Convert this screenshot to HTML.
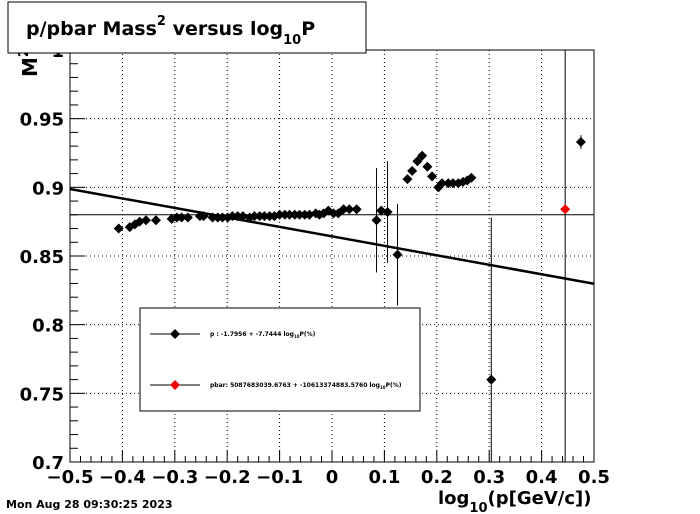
<!DOCTYPE html>
<html><head><meta charset="utf-8"><style>
html,body{margin:0;padding:0;background:#fff;}
svg{display:block;font-family:"DejaVu Sans","Liberation Sans",sans-serif;}
</style></head><body>
<svg id="chart" width="700" height="514" viewBox="0 0 700 514" xmlns="http://www.w3.org/2000/svg">
<rect x="0" y="0" width="700" height="514" fill="#fff"/>
<g id="grid"></g>
<g id="axes"></g>
<g id="marks"></g>
<text transform="translate(37,77) rotate(-90)" font-size="20" font-weight="bold">M<tspan dy="-9" font-size="13">2</tspan></text>
<g>
<rect x="8" y="2" width="358" height="51" fill="#fff" stroke="#000" stroke-width="1"/>
<text x="26" y="35" font-size="19" font-weight="bold">p/pbar Mass<tspan dy="-10" font-size="13">2</tspan><tspan dy="10"> versus log</tspan><tspan dy="9" font-size="13">10</tspan><tspan dy="-9">P</tspan></text>
</g>
<g>
<rect x="140" y="308" width="280" height="103" fill="#fff" stroke="#000" stroke-width="1"/>
<g>
<line x1="150" y1="334" x2="200" y2="334" stroke="#000" stroke-width="1"/>
<path d="M175 329 L180 334 L175 339 L170 334 Z" fill="#000"/>
<text x="210" y="336" font-size="6" font-weight="bold">p   : -1.7956 + -7.7444 log<tspan dy="2" font-size="4">10</tspan><tspan dy="-2">P(%)</tspan></text>
</g>
<g>
<line x1="150" y1="385" x2="200" y2="385" stroke="#000" stroke-width="1"/>
<path d="M175 380 L180 385 L175 390 L170 385 Z" fill="#e00"/>
<text x="210" y="387" font-size="6" font-weight="bold">pbar: 5087683039.6763 + -10613374883.5760 log<tspan dy="2" font-size="4">10</tspan><tspan dy="-2">P(%)</tspan></text>
</g>
</g>
<text x="438" y="504" font-size="18" font-weight="bold">log<tspan dy="8" font-size="13">10</tspan><tspan dy="-8">(p[GeV/c])</tspan></text>
<text x="6" y="508" font-size="11" font-weight="bold">Mon Aug 28 09:30:25 2023</text>
</svg>
<script>
const xTicks=[-0.5,-0.4,-0.3,-0.2,-0.1,0,0.1,0.2,0.3,0.4,0.5];
const xTickLabels=["\u22120.5","\u22120.4","\u22120.3","\u22120.2","\u22120.1","0","0.1","0.2","0.3","0.4","0.5"];
const yTicks=[0.7,0.75,0.8,0.85,0.9,0.95,1.0];
const yTickLabels=["0.7","0.75","0.8","0.85","0.9","0.95","1"];
const pX=[-0.407,-0.386,-0.376,-0.367,-0.355,-0.336,-0.306,-0.296,-0.287,-0.275,-0.252,-0.245,-0.228,-0.218,-0.209,-0.199,-0.190,-0.180,-0.170,-0.157,-0.148,-0.138,-0.129,-0.119,-0.110,-0.100,-0.090,-0.081,-0.071,-0.062,-0.052,-0.043,-0.031,-0.024,-0.016,-0.007,0.003,0.012,0.022,0.033,0.047,0.085,0.094,0.106,0.125,0.144,0.153,0.163,0.172,0.182,0.191,0.203,0.210,0.222,0.231,0.241,0.250,0.258,0.266,0.304,0.475];
const pY=[0.870,0.871,0.873,0.875,0.876,0.876,0.877,0.878,0.878,0.878,0.879,0.879,0.878,0.878,0.878,0.878,0.879,0.879,0.879,0.878,0.879,0.879,0.879,0.879,0.879,0.880,0.880,0.880,0.880,0.880,0.880,0.880,0.881,0.880,0.881,0.883,0.881,0.881,0.884,0.884,0.884,0.876,0.883,0.882,0.851,0.906,0.912,0.919,0.923,0.915,0.908,0.900,0.903,0.903,0.903,0.903,0.904,0.905,0.907,0.760,0.933];
const pErr=[0.001,0.001,0.001,0.001,0.001,0.001,0.001,0.001,0.001,0.001,0.001,0.001,0.001,0.001,0.001,0.001,0.001,0.001,0.001,0.001,0.001,0.001,0.001,0.001,0.001,0.001,0.001,0.001,0.001,0.001,0.001,0.001,0.001,0.001,0.001,0.001,0.001,0.001,0.001,0.001,0.001,0.038,0.001,0.037,0.037,0.002,0.002,0.002,0.002,0.002,0.002,0.002,0.002,0.002,0.002,0.002,0.002,0.002,0.002,0.118,0.005];
const pbarX=[0.445];
const pbarY=[0.884];
const pbarErr=[0.5];
const fitP=[0.8643,-0.069];
const refLine=[0.88];

const X0=70,X1=594,Y0=462,Y1=50;
const xs=v=>X0+(v+0.5)/1.0*(X1-X0);
const ys=v=>Y0-(v-0.7)/0.3*(Y0-Y1);
const NS="http://www.w3.org/2000/svg";
function mk(tag,attrs,parent){const e=document.createElementNS(NS,tag);for(const k in attrs)e.setAttribute(k,attrs[k]);parent.appendChild(e);return e;}
const grid=document.getElementById('grid'),axes=document.getElementById('axes'),marks=document.getElementById('marks');
xTicks.forEach((t,i)=>{
 if(i>0&&i<xTicks.length-1){const g=mk('line',{x1:xs(t),x2:xs(t),y1:Y1,y2:Y0,stroke:'#000','stroke-width':1,'stroke-dasharray':'1,3'},grid);
 
 }
 const tk=mk('line',{x1:xs(t),x2:xs(t),y1:Y0,y2:Y0-12,stroke:'#000','stroke-width':1},axes);
 
 
 const lb=mk('text',{x:xs(t),y:Y0+21,'font-size':18,'font-weight':'bold','text-anchor':'middle'},axes);
 lb.textContent=xTickLabels[i];
 
 
 if(i<xTicks.length-1){for(let k=1;k<5;k++){const m=mk('line',{x1:xs(t+k*0.02),x2:xs(t+k*0.02),y1:Y0,y2:Y0-6,stroke:'#000','stroke-width':1},axes);
 
 }}
});
yTicks.forEach((t,i)=>{
 if(i>0&&i<yTicks.length-1){const g=mk('line',{x1:X0,x2:X1,y1:ys(t),y2:ys(t),stroke:'#000','stroke-width':1,'stroke-dasharray':'1,3'},grid);
 
 }
 const tk=mk('line',{x1:X0,x2:X0+15,y1:ys(t),y2:ys(t),stroke:'#000','stroke-width':1},axes);
 
 
 const lb=mk('text',{x:X0-6,y:ys(t)+7,'font-size':18,'font-weight':'bold','text-anchor':'end'},axes);
 lb.textContent=yTickLabels[i];
 
 
 if(i<yTicks.length-1){for(let k=1;k<5;k++){const m=mk('line',{x1:X0,x2:X0+8,y1:ys(t+k*0.01),y2:ys(t+k*0.01),stroke:'#000','stroke-width':1},axes);
 
 }}
});
const frame=mk('rect',{x:X0,y:Y1,width:X1-X0,height:Y0-Y1,fill:'none',stroke:'#000','stroke-width':1},axes);


const rl=mk('line',{x1:X0,x2:X1,y1:ys(refLine[0]),y2:ys(refLine[0]),stroke:'#000','stroke-width':1},marks);


const fl=mk('line',{x1:X0,x2:X1,y1:ys(fitP[0]+fitP[1]*-0.5),y2:ys(fitP[0]+fitP[1]*0.5),stroke:'#000','stroke-width':2.5},marks);


function clampY(v){return Math.max(Y1,Math.min(Y0,ys(v)));}
function drawSeries(X,Y,E,color,name){
 X.forEach((x,i)=>{
  if(E[i]>0.003){const eb=mk('line',{x1:xs(x),x2:xs(x),y1:clampY(Y[i]+E[i]),y2:clampY(Y[i]-E[i]),stroke:'#000','stroke-width':1},marks);
  
  }
  const cx=xs(x),cy=ys(Y[i]);
  const p=mk('path',{d:`M${cx} ${cy-5}L${cx+5} ${cy}L${cx} ${cy+5}L${cx-5} ${cy}Z`,fill:color},marks);
  
  
 });
}
drawSeries(pX,pY,pErr,'#000','p');
drawSeries(pbarX,pbarY,pbarErr,'#e00','pbar');
</script>
</body></html>
